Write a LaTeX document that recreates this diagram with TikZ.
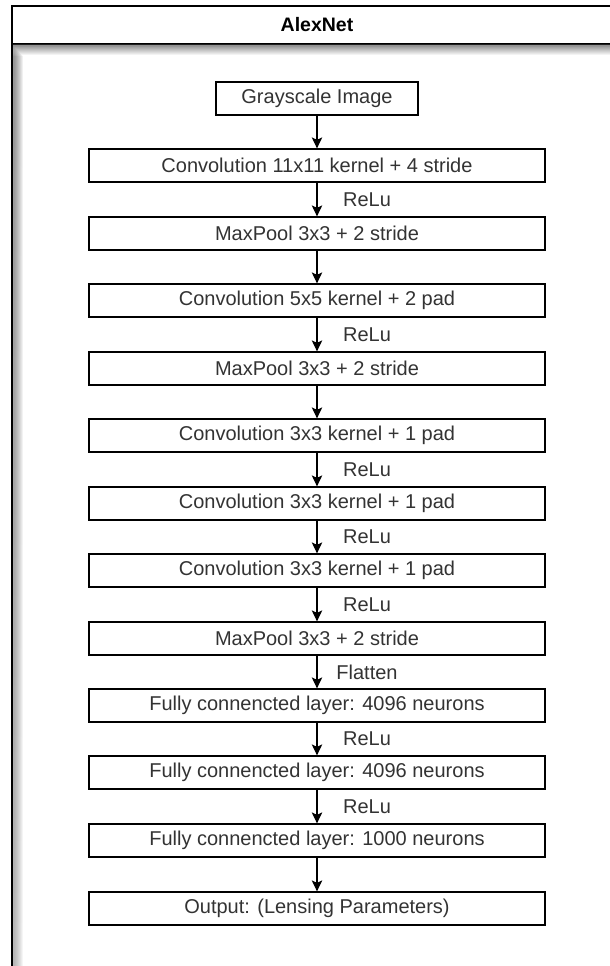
\documentclass[tikz,border=0pt]{standalone}
\usepackage{fontspec}
\setmainfont{Liberation Sans}
\usetikzlibrary{arrows.meta,backgrounds}
\definecolor{ink}{HTML}{333333}
\definecolor{shade}{HTML}{9C9CBC}

\tikzset{
  layer/.style={draw=black, line width=1.3pt, fill=white, text=ink,
    minimum width=456pt, minimum height=33pt, inner sep=0pt,
    font=\fontsize{20}{23}\selectfont},
  inputbox/.style={layer, minimum width=202pt},
  flow/.style={draw=black, line width=1.2pt,
    -{Stealth[length=11pt,width=10.5pt,inset=2.5pt]}},
  flowshade/.style={draw=shade, line width=1.2pt, opacity=0.4,
    -{Stealth[length=11pt,width=10.5pt,inset=2.5pt]}},
  edgelabel/.style={text=ink, font=\fontsize{20}{23}\selectfont,
    inner sep=0pt, xshift=50pt},
  heading/.style={text=black, font=\bfseries\fontsize{19.5}{22}\selectfont}
}

\begin{document}
\begin{tikzpicture}[x=1pt,y=-1pt]
\useasboundingbox (0,0) rectangle (610,966);
\clip (0,0) rectangle (610,966);
\fill[white] (0,0) rectangle (610,966);

% container frame with its title bar
\draw[line width=1.4pt] (12,6) rectangle (622,1000);
\draw[line width=1.4pt] (12,44) -- (622,44);
\node[heading] (title) at (317,25) {AlexNet};

% soft shadow cast inside the container
\foreach \k in {1,...,9} {
  \fill[shade, opacity=0.045] (13,44.8) rectangle (622,{46+\k});
  \fill[shade, opacity=0.04] (12.8,{47+\k}) rectangle ({13.5+\k},1000);
}

% layers of the network
\node[inputbox] (img)  at (317,98.5)  {Grayscale Image};
\node[layer]    (c1)   at (317,165.5) {Convolution 11x11 kernel + 4 stride};
\node[layer]    (p1)   at (317,233.5) {MaxPool 3x3 + 2 stride};
\node[layer]    (c2)   at (317,300.5) {Convolution 5x5 kernel + 2 pad};
\node[layer]    (p2)   at (317,368.5) {MaxPool 3x3 + 2 stride};
\node[layer]    (c3)   at (317,435.5) {Convolution 3x3 kernel + 1 pad};
\node[layer]    (c4)   at (317,503.5) {Convolution 3x3 kernel + 1 pad};
\node[layer]    (c5)   at (317,570.5) {Convolution 3x3 kernel + 1 pad};
\node[layer]    (p3)   at (317,638.5) {MaxPool 3x3 + 2 stride};
\node[layer]    (fc1)  at (317,705.5) {Fully connencted layer: 4096 neurons};
\node[layer]    (fc2)  at (317,772.5) {Fully connencted layer: 4096 neurons};
\node[layer]    (fc3)  at (317,840.5) {Fully connencted layer: 1000 neurons};
\node[layer]    (out)  at (317,908.5) {Output: (Lensing Parameters)};

% blurred drop shadows behind the boxes and arrows
\begin{scope}[on background layer]
  \foreach \n in {img,c1,p1,c2,p2,c3,c4,c5,p3,fc1,fc2,fc3,out} {
    \foreach \k in {1,...,7} {
      \fill[shade, opacity=0.075, rounded corners={\k pt}]
        ([xshift={2.5pt-\k pt}, yshift={-3pt+\k pt}]\n.north west)
        rectangle
        ([xshift={2.5pt+\k pt}, yshift={-3pt-\k pt}]\n.south east);
    }
  }
  \foreach \a/\b in {img/c1,c1/p1,p1/c2,c2/p2,p2/c3,c3/c4,c4/c5,c5/p3,p3/fc1,fc1/fc2,fc2/fc3,fc3/out} {
    \draw[flowshade] ([xshift=2.5pt,yshift=-3pt]\a.south) -- ([xshift=2.5pt,yshift=-3pt]\b.north);
  }
\end{scope}

% connections
\draw[flow] (img.south) -- (c1.north);
\draw[flow] (c1.south) -- node[edgelabel] (l1) {ReLu} (p1.north);
\draw[flow] (p1.south) -- (c2.north);
\draw[flow] (c2.south) -- node[edgelabel] (l2) {ReLu} (p2.north);
\draw[flow] (p2.south) -- (c3.north);
\draw[flow] (c3.south) -- node[edgelabel] (l3) {ReLu} (c4.north);
\draw[flow] (c4.south) -- node[edgelabel] (l4) {ReLu} (c5.north);
\draw[flow] (c5.south) -- node[edgelabel] (l5) {ReLu} (p3.north);
\draw[flow] (p3.south) -- node[edgelabel] (l6) {Flatten} (fc1.north);
\draw[flow] (fc1.south) -- node[edgelabel] (l7) {ReLu} (fc2.north);
\draw[flow] (fc2.south) -- node[edgelabel] (l8) {ReLu} (fc3.north);
\draw[flow] (fc3.south) -- (out.north);
\end{tikzpicture}
\end{document}
